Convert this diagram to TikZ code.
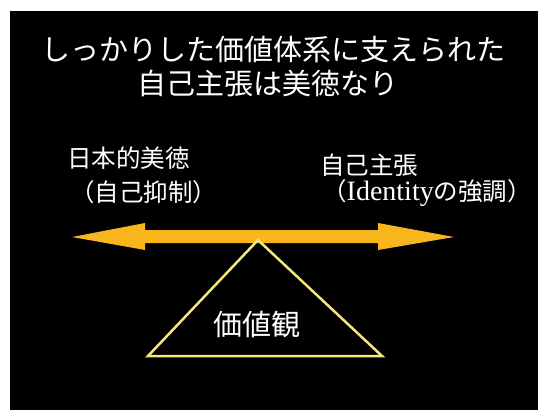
\documentclass[tikz,border=0pt]{standalone}
\usepackage{fontspec}
\setmainfont{Liberation Serif}
\newfontfamily\jp{Noto Sans CJK JP}
\newfontfamily\latin{Liberation Serif}
\definecolor{arrowc}{HTML}{F8B51C}
\definecolor{tric}{HTML}{F4E77C}
\begin{document}
\begin{tikzpicture}[x=1pt,y=-1pt,
  txt/.style={text=white,font=\jp\fontsize{29}{32}\selectfont,inner sep=0pt,align=center},
  lbl/.style={text=white,font=\jp\fontsize{24.5}{28}\selectfont,inner sep=0pt,anchor=west}]
\useasboundingbox (0,0) rectangle (538,410);
\fill[white] (0,0) rectangle (538,410);
\fill[black] (10,11) rectangle (538,410);
\node[txt] (t1) at (273,50) {しっかりした価値体系に支えられた};
\node[txt] (t2) at (268,83) {自己主張は美徳なり};
\node[lbl] (l1) at (67,158) {日本的美徳};
\node[lbl] (l2) at (70,192) {（自己抑制）};
\node[lbl] (r1) at (320,165) {自己主張};
\node[lbl] (r2) at (322,193) {（{\latin\fontsize{28}{28}\selectfont Identity}の強調）};
\fill[arrowc] (72,237) -- (145,223) -- (145,230) -- (378,230) -- (378,223) -- (454,237) -- (378,250) -- (378,243) -- (145,243) -- (145,250) -- cycle;
\coordinate (apex) at (258,240);
\coordinate (bl) at (148,356);
\coordinate (br) at (382,356);
\draw[tric,line width=2.5pt,line join=miter] (apex) -- (br) -- (bl) -- cycle;
\node[txt] (v) at (257,324) {価値観};
\end{tikzpicture}
\end{document}
